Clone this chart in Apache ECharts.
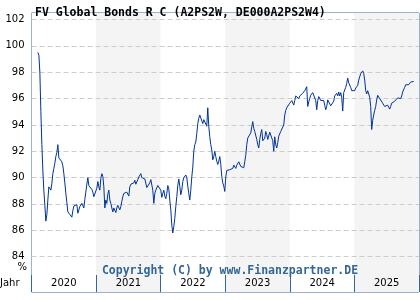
<!DOCTYPE html>
<html>
<head>
<meta charset="utf-8">
<script src="https://cdn.jsdelivr.net/npm/echarts@6/dist/echarts.min.js"></script>
<style>
  html, body { margin: 0; padding: 0; background: #fff; }
  #chart { width: 420px; height: 300px; }
</style>
</head>
<body>
<div id="chart"></div>
<script>
// year cells along the bottom
var years = ['2020', '2021', '2022', '2023', '2024', '2025'];
var yTicks = [84, 86, 88, 90, 92, 94, 96, 98, 100, 102];

// price series, one reading per sampling step
var firstDay = '2020-02-06';
var stepDays = 5.654;
var prices = [
  99.5, 99.3, 98.0, 95.0, 92.5, 90.5, 89.0, 87.9, 86.7, 87.2,
  88.3, 89.3, 89.2, 89.05, 89.55, 90.3, 90.7, 91.1, 91.6, 91.9,
  92.5, 91.5, 91.5, 91.4, 91.2, 90.9, 90.3, 89.6, 88.8, 88.1,
  87.4, 87.3, 87.2, 87.1, 87.0, 87.5, 87.85, 87.7, 87.9, 87.95,
  87.3, 87.55, 87.8, 87.9, 88.05, 87.9, 87.7, 88.35, 88.9, 89.5,
  90.0, 89.4, 89.4, 89.3, 89.1, 88.9, 88.55, 88.4, 88.55, 89.2,
  89.7, 89.3, 89.05, 89.95, 90.3, 90.1, 89.3, 87.7, 88.3, 88.05,
  88.75, 89.05, 88.3, 88.05, 87.7, 87.4, 87.7, 87.55, 87.35, 87.7,
  87.9, 87.85, 87.55, 87.8, 88.2, 88.55, 88.8, 88.75, 88.85, 88.9,
  88.9, 88.6, 89.3, 89.5, 89.45, 89.45, 89.6, 89.8, 89.5, 89.6,
  89.85, 90.05, 90.2, 90.3, 90.0, 89.85, 90.1, 89.9, 89.8, 89.25,
  89.15, 89.35, 89.6, 89.85, 89.7, 89.05, 88.05, 88.8, 89.05, 89.1,
  89.4, 89.5, 89.45, 89.05, 88.5, 88.8, 89.05, 88.6, 88.4, 88.8,
  89.4, 89.15, 88.3, 87.55, 86.4, 85.8, 86.3, 86.9, 87.8, 88.55,
  89.4, 89.9, 89.35, 88.7, 89.05, 89.7, 90.0, 90.1, 90.2, 90.0,
  89.35, 88.8, 88.3, 89.05, 90.05, 90.8, 92.0, 92.5, 92.7, 93.35,
  94.1, 94.5, 94.75, 94.8, 94.6, 94.1, 94.4, 94.3, 94.5, 93.9,
  95.3, 93.9, 93.1, 92.5, 92.1, 91.35, 91.6, 92.0, 91.6, 91.25,
  91.0, 91.25, 91.6, 91.0, 90.1, 89.6, 89.35, 88.95, 90.05, 90.55,
  90.7, 90.6, 90.6, 90.6, 90.55, 90.7, 90.95, 91.05, 90.7, 90.95,
  90.8, 91.2, 91.35, 90.85, 90.8, 90.85, 90.75, 91.2, 91.7, 92.5,
  93.0, 92.9, 93.1, 93.4, 93.85, 94.25, 93.75, 93.5, 93.4, 92.9,
  92.5, 92.25, 92.9, 93.35, 93.65, 92.8, 92.65, 93.0, 93.5, 93.25,
  92.9, 92.8, 93.45, 93.5, 93.45, 92.8, 92.0, 93.1, 92.5, 92.25,
  92.65, 93.15, 93.3, 93.5, 93.35, 93.5, 94.0, 94.75, 95.1, 95.3,
  95.3, 95.35, 95.65, 95.5, 95.85, 95.7, 95.5, 95.85, 96.2, 96.25,
  96.15, 96.0, 96.2, 96.35, 96.25, 96.4, 96.5, 96.6, 96.7, 96.9,
  95.4, 95.75, 96.0, 96.25, 96.4, 96.45, 96.5, 96.45, 95.85, 95.15,
  95.85, 96.15, 96.0, 95.85, 96.0, 95.7, 95.85, 95.5, 95.15, 95.4,
  95.9, 96.0, 95.8, 95.45, 95.5, 95.4, 95.8, 96.2, 96.25, 96.4,
  96.2, 96.5, 96.2, 96.45, 96.1, 95.05, 96.45, 96.6, 96.85, 97.15,
  97.55, 97.2, 97.3, 96.85, 96.6, 96.45, 96.7, 96.6, 96.8, 96.75,
  97.0, 97.4, 97.65, 97.9, 97.85, 98.1, 97.9, 97.4, 96.6, 96.35,
  96.6, 96.45, 96.1, 95.4, 93.65, 94.35, 94.75, 95.1, 95.4, 95.9,
  96.25, 96.2, 96.0, 95.95, 95.9, 95.65, 95.5, 95.4, 95.45, 95.4,
  95.5, 95.4, 95.2, 95.4, 95.65, 95.8, 95.8, 95.8, 95.8, 95.8,
  96.05, 96.15, 96.05, 96.0, 96.2, 96.5, 96.65, 96.85, 97.05, 97.1,
  97.0, 97.05, 97.2, 97.25, 97.3, 97.4, 97.3
];

var DAY = 86400000;
var t0 = new Date(firstDay + 'T00:00:00Z').getTime();
var seriesData = prices.map(function (v, i) {
  return [t0 + i * stepDays * DAY, v];
});

var tMin = Date.UTC(+years[0], 0, 1);
var tMax = Date.UTC(+years[years.length - 1] + 1, 0, 1);

var frameColor = '#336699';
var labelFont = 'DejaVu Sans';
var monoFont = 'DejaVu Sans Mono';

var chart = echarts.init(document.getElementById('chart'), null, { renderer: 'canvas' });

var option = {
  animation: false,
  title: [{
    text: 'FV Global Bonds R C (A2PS2W, DE000A2PS2W4)',
    left: 30,
    top: 2,
    textStyle: { fontFamily: monoFont, fontSize: 11.5, fontWeight: 'bold', color: '#000' }
  }, {
    text: 'Copyright (C) by www.Finanzpartner.DE',
    left: 225,
    top: 260,
    textAlign: 'center',
    textStyle: { fontFamily: monoFont, fontSize: 11.5, fontWeight: 'bold', color: frameColor }
  }],
  graphic: [{
    type: 'text',
    left: 0,
    top: 278,
    style: { text: 'Jahr', font: '10px "DejaVu Sans"', fill: '#000' }
  }, {
    type: 'text',
    right: 393,
    top: 262,
    style: { text: '%', font: '10px "DejaVu Sans"', fill: '#000' }
  }],
  grid: [
    { left: 31.5, right: 1, top: 19.5, bottom: 43.3 },
    { left: 31.5, right: 1, top: 13, bottom: 25, show: true, borderColor: frameColor, borderWidth: 1, z: 0 },
    { left: 31.5, right: 1, top: 275, bottom: 8, show: true, borderColor: frameColor, borderWidth: 1 }
  ],
  xAxis: [{
    type: 'time',
    gridIndex: 0,
    min: tMin,
    max: tMax,
    show: false
  }, {
    type: 'category',
    gridIndex: 1,
    data: years,
    boundaryGap: true,
    axisLine: { show: false },
    axisTick: { show: false },
    axisLabel: { show: false },
    splitLine: { show: false },
    splitArea: { show: true, areaStyle: { color: ['#ffffff', '#f4f4f4'] } },
    z: 0
  }, {
    type: 'category',
    gridIndex: 2,
    data: years,
    boundaryGap: true,
    axisLine: { show: false },
    axisTick: { show: false },
    axisLabel: {
      inside: true,
      margin: 8.5,
      verticalAlign: 'middle',
      fontFamily: labelFont,
      fontSize: 10,
      color: '#000'
    },
    splitLine: { show: true, lineStyle: { color: frameColor, width: 1, type: 'solid' } },
    splitArea: { show: true, areaStyle: { color: ['#ffffff', '#f4f4f4'] } }
  }],
  yAxis: [{
    type: 'value',
    gridIndex: 0,
    min: yTicks[0],
    max: yTicks[yTicks.length - 1],
    interval: 2,
    axisLine: { show: false },
    axisTick: { show: false },
    axisLabel: { margin: 7, fontFamily: labelFont, fontSize: 10, color: '#000' },
    splitLine: { lineStyle: { color: '#cccccc', type: [5, 3], width: 1 } },
    z: 2
  }, {
    type: 'value',
    gridIndex: 1,
    min: 0,
    max: 1,
    show: false
  }, {
    type: 'value',
    gridIndex: 2,
    min: 0,
    max: 1,
    show: false
  }],
  series: [{
    type: 'line',
    xAxisIndex: 0,
    yAxisIndex: 0,
    data: seriesData,
    showSymbol: false,
    symbol: 'none',
    lineStyle: { color: '#003399', width: 1 },
    z: 5
  }]
};

chart.setOption(option);
</script>
</body>
</html>
